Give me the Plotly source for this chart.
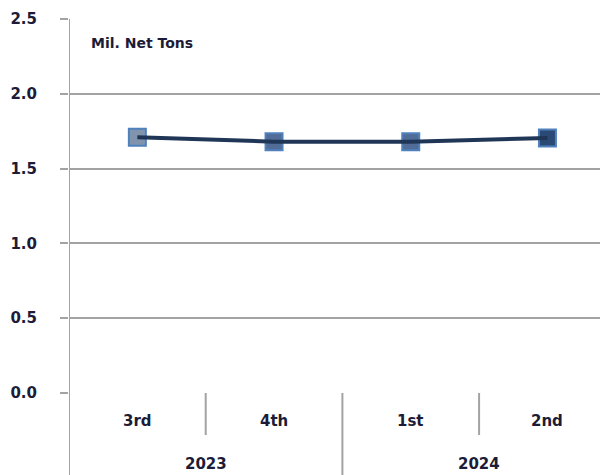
import plotly.graph_objects as go

quarters = ["3rd", "4th", "1st", "2nd"]
years = ["2023", "2023", "2024", "2024"]
values = [1.71, 1.68, 1.68, 1.705]
marker_fills = ["#8194ae", "#516c96", "#516c96", "#2a4a75"]
y_ticks = [0.0, 0.5, 1.0, 1.5, 2.0, 2.5]
unit_label = "Mil. Net Tons"

FONT = "DejaVu Sans"
TXT = "#1c1c38"
GRID = "#a3a3a3"

# page body has an 8px default margin; compensate so plot lands where reference has it
OFF = 8
W, H = 608 - OFF, 475 - OFF
PLOT_L, PLOT_T, PLOT_B = 69 - OFF, 19 - OFF, 393 - OFF
plot_h = PLOT_B - PLOT_T

xs = list(range(len(quarters)))

fig = go.Figure()
fig.add_trace(go.Scatter(
    x=xs, y=values, mode="markers",
    marker=dict(symbol="square", size=17, color=marker_fills,
                line=dict(color="#4f81bd", width=2)),
    hoverinfo="skip", showlegend=False))
fig.add_trace(go.Scatter(
    x=xs, y=values, mode="lines",
    line=dict(color="#1f3657", width=4),
    showlegend=False))

# quarter labels
for i, q in enumerate(quarters):
    fig.add_annotation(x=i, y=0, xref="x", yref="paper", text=q,
                       showarrow=False, yanchor="middle", yshift=-28,
                       font=dict(family=FONT, size=15, color=TXT, weight="bold"))

# year labels and dividers
groups = []
for i, yr in enumerate(years):
    if not groups or groups[-1][0] != yr:
        groups.append([yr, i, i])
    else:
        groups[-1][2] = i
for yr, a, b in groups:
    fig.add_annotation(x=(a + b) / 2, y=0, xref="x", yref="paper", text=yr,
                       showarrow=False, yanchor="middle", yshift=-71,
                       font=dict(family=FONT, size=15, color=TXT, weight="bold"))

line_style = dict(color=GRID, width=2)
year_bounds = set(g[1] for g in groups[1:])
full_drop = -(H - PLOT_B) / plot_h
inner_drop = -42 / plot_h
for i in range(1, len(quarters)):
    y0 = full_drop if i in year_bounds else inner_drop
    fig.add_shape(type="line", xref="x", yref="paper", x0=i - 0.5, x1=i - 0.5,
                  y0=y0, y1=0, line=line_style)
# left axis line (extends through the category label band)
fig.add_shape(type="line", xref="x", yref="paper", x0=-0.5, x1=-0.5,
              y0=full_drop, y1=1, line=line_style)

fig.add_annotation(x=0, y=1, xref="paper", yref="paper", text=unit_label,
                   showarrow=False, xanchor="left", yanchor="middle",
                   xshift=20, yshift=-24,
                   font=dict(family=FONT, size=14, color=TXT, weight="bold"))

fig.update_layout(
    width=W, height=H,
    margin=dict(l=PLOT_L, r=0, t=PLOT_T, b=H - PLOT_B, pad=0),
    paper_bgcolor="white", plot_bgcolor="white",
    xaxis=dict(range=[-0.5, 3.443], showgrid=False, zeroline=False,
               showticklabels=False, ticks="", showline=False, fixedrange=True),
    yaxis=dict(range=[0, 2.5], tickvals=y_ticks,
               ticktext=[f"{v:.1f}" for v in y_ticks],
               showgrid=True, gridcolor=GRID, gridwidth=2,
               zeroline=False, showline=False,
               ticks="outside", ticklen=8, tickcolor=GRID, tickwidth=2,
               ticklabelstandoff=20,
               tickfont=dict(family=FONT, size=15, color=TXT, weight="bold")),
)

fig.write_html("out.html")
